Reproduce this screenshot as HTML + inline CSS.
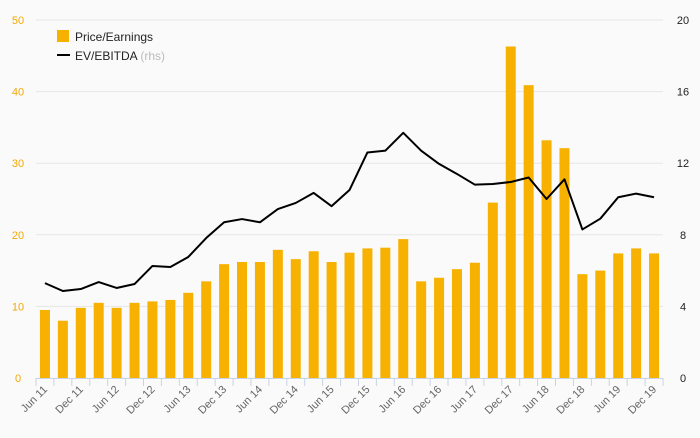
<!DOCTYPE html>
<html><head><meta charset="utf-8"><style>
body{margin:0;background:#fafafa;font-family:"Liberation Sans",sans-serif}
svg text{font-family:"Liberation Sans",sans-serif}
</style></head><body>
<svg id="chart" width="700" height="433">
<g id="grid"></g><g id="bars"></g><g id="line"></g><g id="axes"></g>
<g>
<rect x="57" y="30" width="12" height="12" fill="#f7b100"/>
<text x="75" y="41" font-size="12" fill="#222">Price/Earnings</text>
<line x1="57" y1="55" x2="70" y2="55" stroke="#000" stroke-width="2"/>
<text x="75" y="60" font-size="12" fill="#222">EV/EBITDA <tspan fill="#bbb">(rhs)</tspan></text>
</g>
</svg>
<script>
const labels=["Jun 11","Dec 11","Jun 12","Dec 12","Jun 13","Dec 13","Jun 14","Dec 14","Jun 15","Dec 15","Jun 16","Dec 16","Jun 17","Dec 17","Jun 18","Dec 18","Jun 19","Dec 19"];
const peValues=[9.5,8,9.8,10.5,9.8,10.5,10.7,10.9,11.9,13.5,15.9,16.2,16.2,17.9,16.6,17.7,16.2,17.5,18.1,18.2,19.4,13.5,14,15.2,16.1,24.5,46.3,40.9,33.2,32.1,14.5,15,17.4,18.1,17.4];
const evValues=[5.3,4.86,4.97,5.36,5.03,5.25,6.26,6.2,6.76,7.82,8.7,8.88,8.7,9.44,9.78,10.34,9.6,10.5,12.6,12.7,13.7,12.7,11.96,11.4,10.8,10.84,10.95,11.2,10,11.1,8.3,8.9,10.1,10.3,10.1];
const leftTicks=[0,10,20,30,40,50];
const rightTicks=[0,4,8,12,16,20];
const NS="http://www.w3.org/2000/svg";
const x0=36,x1=663,yb=378,yt=20;
const n=peValues.length,step=(x1-x0)/n;
const yL=v=>yb-(v/50)*(yb-yt);
const yR=v=>yb-(v/20)*(yb-yt);
const xc=i=>x0+step*(i+0.5);
function mk(t,a,p){const e=document.createElementNS(NS,t);for(const k in a)e.setAttribute(k,a[k]);p.appendChild(e);return e;}
const grid=document.getElementById('grid'),bars=document.getElementById('bars'),line=document.getElementById('line'),axes=document.getElementById('axes');
leftTicks.forEach((v,i)=>{
 if(v>0){const g=mk('line',{x1:x0,x2:x1,y1:yL(v),y2:yL(v),stroke:'#e6e6e6','stroke-width':1},grid);
 
 }
 const t=mk('text',{x:18,y:yL(v)+4,'font-size':11,fill:'#f2a900','text-anchor':'middle'},axes);t.textContent=v;
 
 
});
rightTicks.forEach(v=>{
 const t=mk('text',{x:683,y:yR(v)+4,'font-size':11,fill:'#222','text-anchor':'middle'},axes);t.textContent=v;
 
 
});
peValues.forEach((v,i)=>{
 const r=mk('rect',{x:xc(i)-5,y:yL(v),width:10,height:yb-yL(v),fill:'#f7b100'},bars);
 
 
});
const pl=mk('polyline',{points:evValues.map((v,i)=>xc(i)+','+yR(v)).join(' '),fill:'none',stroke:'#000','stroke-width':2,'stroke-linejoin':'round'},line);


const ax=mk('line',{x1:x0,x2:x1,y1:yb+0.5,y2:yb+0.5,stroke:'#c8d4e6'},axes);


for(let i=0;i<=n;i++){const tk=mk('line',{x1:x0+step*i,x2:x0+step*i,y1:yb,y2:yb+8,stroke:'#c8d4e6'},axes);
 
 }
labels.forEach((l,j)=>{
 const x=xc(j*2)+3,y=yb+12;
 const t=mk('text',{x:x,y:y,'font-size':11,fill:'#666','text-anchor':'end',transform:`rotate(-45 ${x} ${y})`},axes);t.textContent=l;
 
 
});
</script>
</body></html>
